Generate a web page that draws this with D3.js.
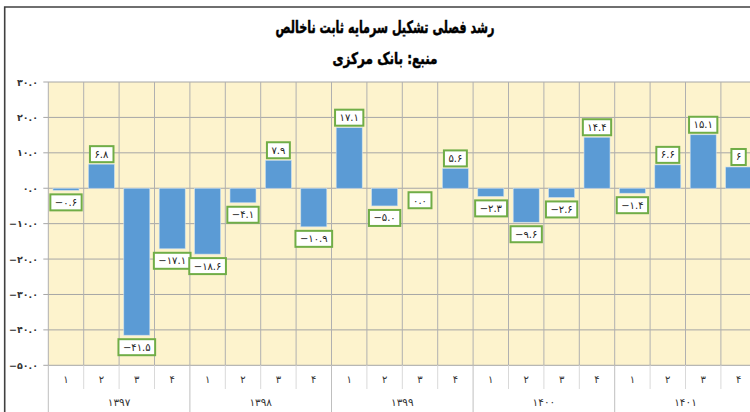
<!DOCTYPE html>
<html>
<head>
<meta charset="utf-8">
<script src="https://cdn.jsdelivr.net/npm/d3@7"></script>
<style>
  body { margin: 0; background: #fff; overflow: hidden; }
  svg { display: block; font-family: "DejaVu Sans", sans-serif; }
</style>
</head>
<body>
<svg width="750" height="412"></svg>
<script>
// data
let years = ["1397", "1398", "1399", "1400", "1401"];
let quarters = ["1", "2", "3", "4"];
let values = [-0.6, 6.8, -41.5, -17.1,
              -18.6, -4.1, 7.9, -10.9,
              17.1, -5.0, 0.0, 5.6,
              -2.3, -9.6, -2.6, 14.4,
              -1.4, 6.6, 15.1, 6];
let valueLabels = ["-0.6", "6.8", "-41.5", "-17.1",
                   "-18.6", "-4.1", "7.9", "-10.9",
                   "17.1", "-5.0", "0.0", "5.6",
                   "-2.3", "-9.6", "-2.6", "14.4",
                   "-1.4", "6.6", "15.1", "6"];
let yTicks = [30, 20, 10, 0, -10, -20, -30, -40, -50];

const fa = s => String(s).replace(/[0-9]/g, d => "۰۱۲۳۴۵۶۷۸۹"[d]).replace("-", "−");

let svg = d3.select("svg"),
    plot = {left: 48.3, right: 756.3, top: 82, bottom: 365.3};

let points = [];
years.forEach((y, i) => quarters.forEach((q, j) => {
    points.push({year: y, q: q, value: values[i * 4 + j], label: valueLabels[i * 4 + j]});
}));

let xScale = d3.scaleBand()
    .domain(d3.range(points.length))
    .range([plot.left, plot.right]);
let yScale = d3.scaleLinear()
    .domain([-50, 30])
    .range([plot.bottom, plot.top]);

// outer frame (cut at the right edge)
svg.append("path")
    .attr("d", "M4.7,412 V7 H760")
    .attr("fill", "none")
    .attr("stroke", "#404040")
    .attr("stroke-width", 1.6);

// titles
svg.append("text")
    .attr("x", 385).attr("y", 33)
    .attr("text-anchor", "middle")
    .attr("direction", "rtl")
    .attr("font-size", "17px")
    .attr("font-weight", "bold")
    .attr("stroke", "#000")
    .attr("stroke-width", 0.5)
    .attr("textLength", 219)
    .attr("lengthAdjust", "spacingAndGlyphs")
    .text("رشد فصلی تشکیل سرمایه ثابت ناخالص");
svg.append("text")
    .attr("x", 385).attr("y", 64)
    .attr("text-anchor", "middle")
    .attr("direction", "rtl")
    .attr("font-size", "16px")
    .attr("font-weight", "bold")
    .attr("stroke", "#000")
    .attr("stroke-width", 0.5)
    .attr("textLength", 105)
    .attr("lengthAdjust", "spacingAndGlyphs")
    .text("منبع: بانک مرکزی");

// plot background
svg.append("rect")
    .attr("x", plot.left).attr("y", plot.top)
    .attr("width", plot.right - plot.left)
    .attr("height", plot.bottom - plot.top)
    .attr("fill", "#fdf3cd");

// horizontal grid + y labels
let yAxis = svg.append("g");
yAxis.selectAll("line")
    .data(yTicks)
    .join("line")
    .attr("x1", plot.left - 5).attr("x2", plot.right)
    .attr("y1", d => yScale(d)).attr("y2", d => yScale(d))
    .attr("stroke", "#a6a6a6")
    .attr("stroke-width", 1);
yAxis.selectAll("text")
    .data(yTicks)
    .join("text")
    .attr("x", 38).attr("y", d => yScale(d) + 3.5)
    .attr("text-anchor", "end")
    .attr("font-size", "9.5px")
    .attr("font-weight", "bold")
    .attr("fill", "#333")
    .text(d => fa(d3.format(".1f")(d)));

// vertical grid
svg.append("g").selectAll("line")
    .data(d3.range(points.length + 1))
    .join("line")
    .attr("x1", d => plot.left + d * xScale.bandwidth())
    .attr("x2", d => plot.left + d * xScale.bandwidth())
    .attr("y1", plot.top).attr("y2", plot.bottom)
    .attr("stroke", "#b0b0b0")
    .attr("stroke-width", 1);

// bars
let barW = xScale.bandwidth() * 0.735;
svg.append("g").selectAll("rect")
    .data(points)
    .join("rect")
    .attr("x", (d, i) => xScale(i) + (xScale.bandwidth() - barW) / 2)
    .attr("y", d => yScale(Math.max(0, d.value)))
    .attr("width", barW)
    .attr("height", d => Math.abs(yScale(d.value) - yScale(0)))
    .attr("fill", "#5b9bd5")
    .attr("stroke", "#cfe0f0")
    .attr("stroke-width", 0.6);

// data labels: white box, green border
let boxH = 16;
const boxY = d => d.value > 0 ? yScale(d.value) - 2 - boxH : yScale(d.value) + 4;
let labels = svg.append("g").selectAll("g")
    .data(points)
    .join("g");
labels.append("text")
    .attr("x", (d, i) => xScale(i) + xScale.bandwidth() / 2)
    .attr("y", d => boxY(d) + boxH / 2 + 3.5)
    .attr("text-anchor", "middle")
    .attr("font-size", "10px")
    .attr("fill", "#222")
    .text(d => fa(d.label));
labels.each(function(d) {
    let g = d3.select(this),
        b = g.select("text").node().getBBox();
    g.insert("rect", "text")
        .attr("x", b.x - 4.5).attr("y", boxY(d))
        .attr("width", b.width + 9).attr("height", boxH)
        .attr("fill", "#fff")
        .attr("stroke", "#70ad47")
        .attr("stroke-width", 2);
});

// category axis
let xAxis = svg.append("g");
xAxis.selectAll("line.q")
    .data(d3.range(points.length + 1).filter(d => d % 4 != 0))
    .join("line")
    .attr("class", "q")
    .attr("x1", d => plot.left + d * xScale.bandwidth())
    .attr("x2", d => plot.left + d * xScale.bandwidth())
    .attr("y1", plot.bottom).attr("y2", 389)
    .attr("stroke", "#d9d9d9");
xAxis.selectAll("line.y")
    .data(d3.range(0, points.length + 1, 4))
    .join("line")
    .attr("class", "y")
    .attr("x1", d => plot.left + d * xScale.bandwidth())
    .attr("x2", d => plot.left + d * xScale.bandwidth())
    .attr("y1", plot.bottom).attr("y2", 412)
    .attr("stroke", "#bfbfbf");
xAxis.selectAll("text.q")
    .data(points)
    .join("text")
    .attr("class", "q")
    .attr("x", (d, i) => xScale(i) + xScale.bandwidth() / 2)
    .attr("y", 383)
    .attr("text-anchor", "middle")
    .attr("font-size", "10px")
    .attr("fill", "#333")
    .text(d => fa(d.q));
xAxis.selectAll("text.y")
    .data(years)
    .join("text")
    .attr("class", "y")
    .attr("x", (d, i) => xScale(i * 4) + xScale.bandwidth() * 2)
    .attr("y", 406)
    .attr("text-anchor", "middle")
    .attr("font-size", "10.5px")
    .attr("fill", "#333")
    .text(d => fa(d));
</script>
</body>
</html>
